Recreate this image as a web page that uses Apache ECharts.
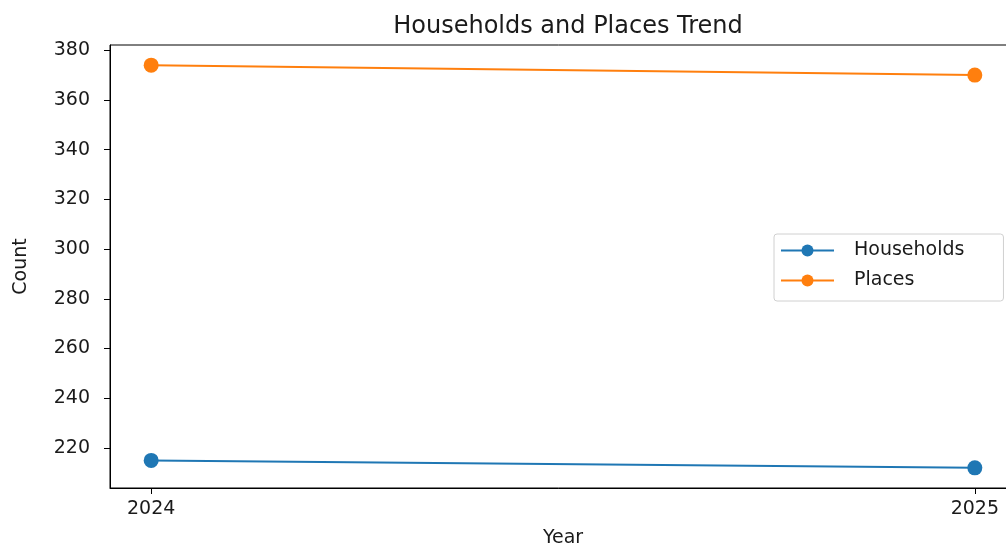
<!DOCTYPE html>
<html><head><meta charset="utf-8">
<script src="https://cdn.jsdelivr.net/npm/echarts@6/dist/echarts.min.js"></script>
<style>html,body{margin:0;padding:0;background:#fff;overflow:hidden}#c{width:1006px;height:550px}</style>
</head><body><div id="c"></div>
<script>
const years = [2024, 2025];
const households = [215, 212];
const places = [374, 370];
const yTicks = [220, 240, 260, 280, 300, 320, 340, 360, 380];
const seriesNames = ['Households', 'Places'];

const chart = echarts.init(document.getElementById('c'), null, {renderer: 'canvas'});
const font = 'DejaVu Sans';
function pairs(vals){ return years.map((y,i)=>[y, vals[i]]); }
const all = households.concat(places);
const lo = Math.min(...all), hi = Math.max(...all), pad = (hi-lo)*0.05;
const xPad = (years[years.length-1]-years[0])*0.05;
const ink = '#1a1a1a';

chart.setOption({
  animation: false,
  title: {text: 'Households and Places Trend', left: 563, top: 10, textAlign: 'center',
    textStyle: {fontFamily: font, fontSize: 24, fontWeight: 'normal', color: ink}},
  grid: {left: 110, top: 45, height: 443, width: 906, outerBoundsMode: 'none', containLabel: false,
    show: true, borderColor: '#000', borderWidth: 1, backgroundColor: 'transparent'},
  legend: {orient: 'vertical', left: 774, top: 234, padding: [7, 39, 11, 6],
    borderColor: '#d0d0d0', borderWidth: 1, borderRadius: 3,
    itemWidth: 53, itemHeight: 15, itemGap: 11,
    textStyle: {fontFamily: font, fontSize: 19, color: ink, padding: [0, 0, 0, 15]},
    data: seriesNames},
  xAxis: {type: 'value', min: years[0]-xPad, max: years[years.length-1]+xPad,
    name: 'Year', nameLocation: 'middle', nameGap: 41,
    nameTextStyle: {fontFamily: font, fontSize: 19, color: ink},
    axisLine: {show: true, onZero: false, lineStyle: {color: '#000'}},
    axisTick: {show: true, length: 6, customValues: years, lineStyle: {color: '#000'}},
    axisLabel: {customValues: years, margin: 12, fontFamily: font, fontSize: 19, color: ink, formatter: v => String(v)},
    splitLine: {show: false}},
  yAxis: {type: 'value', min: lo-pad, max: hi+pad,
    name: 'Count', nameLocation: 'middle', nameGap: 79, nameRotate: 90,
    nameTextStyle: {fontFamily: font, fontSize: 19, color: ink},
    axisLine: {show: true, onZero: false, lineStyle: {color: '#000'}},
    axisTick: {show: true, length: 6, customValues: yTicks, lineStyle: {color: '#000'}},
    axisLabel: {customValues: yTicks, margin: 20, fontFamily: font, fontSize: 19, color: ink},
    splitLine: {show: false}},
  series: [
    {name: seriesNames[0], type: 'line', data: pairs(households), color: '#1f77b4',
     symbol: 'circle', symbolSize: 15, lineStyle: {width: 2}, itemStyle: {color: '#1f77b4'}},
    {name: seriesNames[1], type: 'line', data: pairs(places), color: '#ff7f0e',
     symbol: 'circle', symbolSize: 15, lineStyle: {width: 2}, itemStyle: {color: '#ff7f0e'}}
  ]
});
</script></body></html>
